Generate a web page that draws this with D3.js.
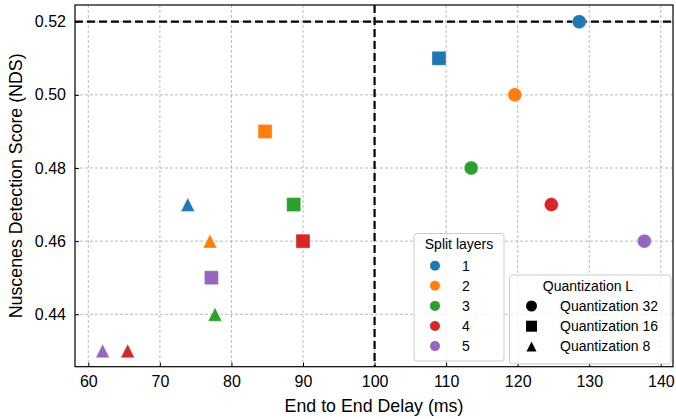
<!DOCTYPE html>
<html lang="en">
<head>
<meta charset="utf-8">
<title>NDS vs end to end delay</title>
<script src="https://cdn.jsdelivr.net/npm/d3@7"></script>
<style>
  body { margin: 0; background: #fff; }
  svg { font-family: "Liberation Sans", Arial, sans-serif; }
</style>
</head>
<body>
<script>
// data
var layers = [1, 2, 3, 4, 5];
var layerColors = ["#1f77b4", "#ff7f0e", "#2ca02c", "#d62728", "#9467bd"];
var quantLabels = ["Quantization 32", "Quantization 16", "Quantization 8"];

var delayQ32 = [128.6, 119.6, 113.5, 124.7, 137.7];
var ndsQ32   = [0.52, 0.50, 0.48, 0.47, 0.46];
var delayQ16 = [109.0, 84.7, 88.7, 90.0, 77.2];
var ndsQ16   = [0.51, 0.49, 0.47, 0.46, 0.45];
var delayQ8  = [73.9, 77.0, 77.7, 65.5, 62.0];
var ndsQ8    = [0.47, 0.46, 0.44, 0.43, 0.43];

var xTicks = [60, 70, 80, 90, 100, 110, 120, 130, 140];
var yTicks = [0.44, 0.46, 0.48, 0.50, 0.52];
var refDelay = 100;
var refNds = 0.52;

var w = 676, h = 419;
var pLeft = 75, pRight = 673, pTop = 5, pBottom = 366.7;

var svg = d3.select("body").append("svg")
  .attr("width", w)
  .attr("height", h);

var x = d3.scaleLinear().domain([58.14, 141.7]).range([pLeft, pRight]);
var y = d3.scaleLinear().domain([0.42567, 0.52457]).range([pBottom, pTop]);

// matplotlib style markers (bbox centred)
var tri = {
  draw: function(ctx, size) {
    var r = Math.sqrt(size) / 2;
    ctx.moveTo(0, -r);
    ctx.lineTo(r, r);
    ctx.lineTo(-r, r);
    ctx.closePath();
  }
};
var square = {
  draw: function(ctx, size) {
    var r = Math.sqrt(size) / 2;
    ctx.rect(-r, -r, 2 * r, 2 * r);
  }
};
var circle = {
  draw: function(ctx, size) {
    var r = Math.sqrt(size) / 2;
    ctx.moveTo(r, 0);
    ctx.arc(0, 0, r, 0, 2 * Math.PI);
  }
};
var shapes = [circle, square, tri];

// grid
svg.append("g").selectAll("line")
  .data(xTicks).enter().append("line")
  .attr("x1", function(d) { return x(d); })
  .attr("x2", function(d) { return x(d); })
  .attr("y1", pTop).attr("y2", pBottom)
  .attr("stroke", "#aaaaaa").attr("stroke-width", 0.8)
  .attr("stroke-dasharray", "3,2");
svg.append("g").selectAll("line")
  .data(yTicks).enter().append("line")
  .attr("y1", function(d) { return y(d); })
  .attr("y2", function(d) { return y(d); })
  .attr("x1", pLeft).attr("x2", pRight)
  .attr("stroke", "#aaaaaa").attr("stroke-width", 0.8)
  .attr("stroke-dasharray", "3,2");

// reference lines
svg.append("line")
  .attr("x1", pLeft).attr("x2", pRight)
  .attr("y1", y(refNds)).attr("y2", y(refNds))
  .attr("stroke", "black").attr("stroke-width", 2.2)
  .attr("stroke-dasharray", "8,4");
svg.append("line")
  .attr("x1", x(refDelay)).attr("x2", x(refDelay))
  .attr("y1", pTop).attr("y2", pBottom)
  .attr("stroke", "black").attr("stroke-width", 2.2)
  .attr("stroke-dasharray", "8,4");

// points
var series = [
  { xs: delayQ32, ys: ndsQ32, shape: 0 },
  { xs: delayQ16, ys: ndsQ16, shape: 1 },
  { xs: delayQ8,  ys: ndsQ8,  shape: 2 }
];
series.forEach(function(s) {
  var pts = layers.map(function(l, i) { return { x: s.xs[i], y: s.ys[i], i: i }; });
  svg.append("g").selectAll("path")
    .data(pts).enter().append("path")
    .attr("d", d3.symbol().type(shapes[s.shape]).size(s.shape == 2 ? 190 : 196))
    .attr("transform", function(d) { return "translate(" + x(d.x) + "," + y(d.y) + ")"; })
    .attr("fill", function(d) { return layerColors[d.i]; })
    .attr("stroke", "white").attr("stroke-width", 0.6).attr("stroke-opacity", 0.6);
});

// axes (ticks inward)
var xAxis = svg.append("g")
  .attr("transform", "translate(0," + pBottom + ")")
  .call(d3.axisBottom(x).tickValues(xTicks).tickSizeInner(-4).tickSizeOuter(0).tickPadding(9));
var yAxis = svg.append("g")
  .attr("transform", "translate(" + pLeft + ",0)")
  .call(d3.axisLeft(y).tickValues(yTicks).tickFormat(d3.format(".2f")).tickSizeInner(-4).tickSizeOuter(0).tickPadding(9));
[xAxis, yAxis].forEach(function(a) {
  a.select(".domain").remove();
  a.selectAll("text").attr("font-size", "16px").attr("fill", "#000")
    .attr("font-family", "Liberation Sans, Arial, sans-serif");
  a.selectAll("line").attr("stroke", "#000").attr("stroke-width", 1);
});

// frame
svg.append("rect")
  .attr("x", pLeft).attr("y", pTop)
  .attr("width", pRight - pLeft).attr("height", pBottom - pTop)
  .attr("fill", "none").attr("stroke", "black").attr("stroke-width", 1.2);

// axis labels
svg.append("text")
  .attr("x", (pLeft + pRight) / 2).attr("y", 412)
  .attr("text-anchor", "middle").attr("font-size", "17.8px")
  .text("End to End Delay (ms)");
svg.append("text")
  .attr("transform", "translate(22," + (pTop + pBottom) / 2 + ") rotate(-90)")
  .attr("text-anchor", "middle").attr("font-size", "17.8px")
  .text("Nuscenes Detection Score (NDS)");

// legend: split layers
var lg1 = svg.append("g");
lg1.append("rect")
  .attr("x", 414).attr("y", 233.5).attr("width", 90).attr("height", 127.5)
  .attr("rx", 3).attr("fill", "white").attr("fill-opacity", 0.8)
  .attr("stroke", "#cccccc").attr("stroke-width", 1);
lg1.append("text")
  .attr("x", 459).attr("y", 249).attr("text-anchor", "middle")
  .attr("font-size", "14px").text("Split layers");
lg1.selectAll("circle.k")
  .data(layers).enter().append("circle")
  .attr("cx", 435).attr("cy", function(d, i) { return 265.7 + i * 20.1; })
  .attr("r", 5).attr("fill", function(d, i) { return layerColors[i]; });
lg1.selectAll("text.k")
  .data(layers).enter().append("text")
  .attr("x", 462).attr("y", function(d, i) { return 270.7 + i * 20.1; })
  .attr("font-size", "14px").text(function(d) { return d; });

// legend: quantization
var lg2 = svg.append("g");
lg2.append("rect")
  .attr("x", 509.5).attr("y", 275).attr("width", 161.5).attr("height", 89)
  .attr("rx", 3).attr("fill", "white").attr("fill-opacity", 0.8)
  .attr("stroke", "#cccccc").attr("stroke-width", 1);
lg2.append("text")
  .attr("x", 588).attr("y", 291).attr("text-anchor", "middle")
  .attr("font-size", "14px").text("Quantization L");
lg2.selectAll("path")
  .data(quantLabels).enter().append("path")
  .attr("d", function(d, i) { return d3.symbol().type(shapes[i]).size(i == 2 ? 100 : 121)(); })
  .attr("transform", function(d, i) { return "translate(531.5," + (306 + i * 20.2) + ")"; })
  .attr("fill", "black");
lg2.selectAll("text.k")
  .data(quantLabels).enter().append("text")
  .attr("x", 560).attr("y", function(d, i) { return 311 + i * 20.2; })
  .attr("font-size", "14px").text(function(d) { return d; });
</script>
</body>
</html>
